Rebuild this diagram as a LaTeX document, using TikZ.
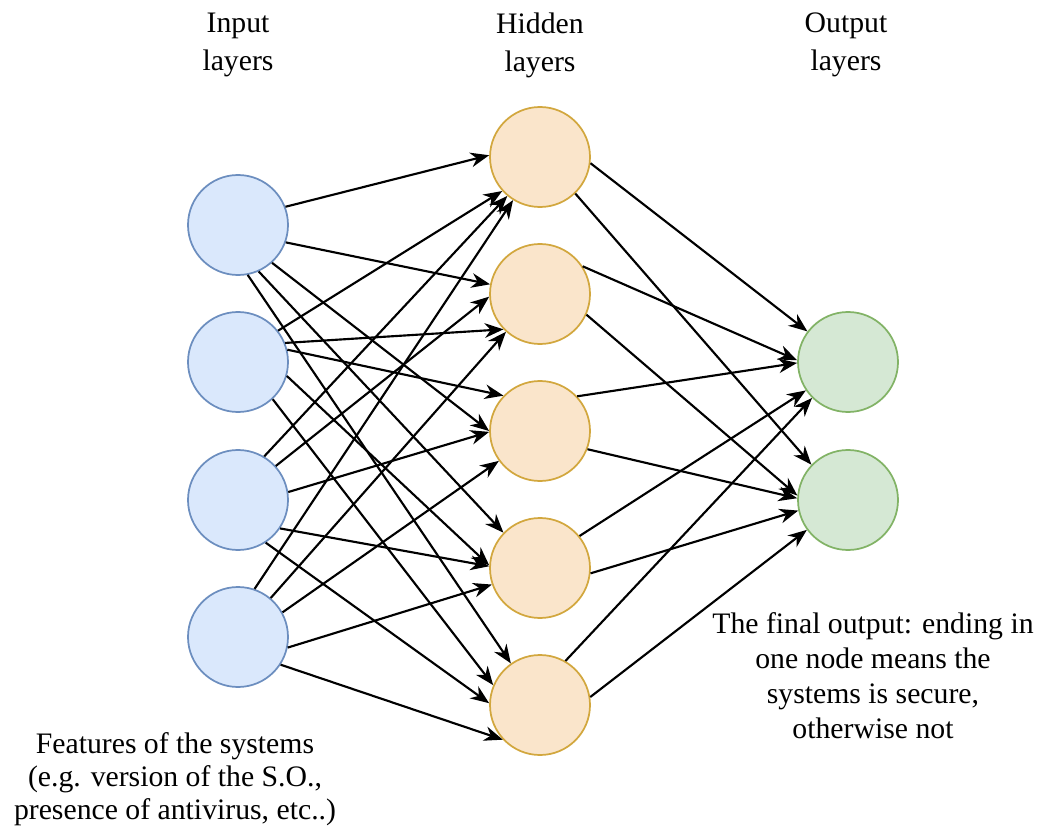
\documentclass[tikz,border=0pt]{standalone}
\usepackage{fontspec}
\setmainfont{Liberation Serif}
\usetikzlibrary{arrows.meta}

\definecolor{inFill}{HTML}{DAE8FC}
\definecolor{inLine}{HTML}{6C8EBF}
\definecolor{hidFill}{HTML}{FAE5CB}
\definecolor{hidLine}{HTML}{D2A73E}
\definecolor{outFill}{HTML}{D5E8D4}
\definecolor{outLine}{HTML}{82B366}

\begin{document}
\begin{tikzpicture}[x=0.75pt,y=-0.75pt,
  neuron/.style={circle,draw,line width=1.3pt,minimum size=75pt,inner sep=0pt},
  inneuron/.style={neuron,fill=inFill,draw=inLine},
  hidneuron/.style={neuron,fill=hidFill,draw=hidLine},
  outneuron/.style={neuron,fill=outFill,draw=outLine},
  link/.style={line width=1.6pt,-{Stealth[length=14pt,width=11pt,inset=4.5pt]}},
  caption/.style={align=center,inner sep=0pt,font=\fontsize{22.3pt}{28.5pt}\selectfont},
  note/.style={align=center,inner sep=0pt}]
\useasboundingbox (0,0) rectangle (1042,831);

% layer titles
\node[caption] (tin)  at (238,45) {Input\\layers};
\node[caption] (thid) at (540,45) {Hidden\\layers};
\node[caption] (tout) at (846,45) {Output\\layers};

% neurons
\node[inneuron] (i1) at (238,225) {};
\node[inneuron] (i2) at (238,362) {};
\node[inneuron] (i3) at (238,500) {};
\node[inneuron] (i4) at (238,637) {};

\node[hidneuron] (h1) at (540,157) {};
\node[hidneuron] (h2) at (540,294) {};
\node[hidneuron] (h3) at (540,431) {};
\node[hidneuron] (h4) at (540,568) {};
\node[hidneuron] (h5) at (540,705) {};

\node[outneuron] (o1) at (848,362) {};
\node[outneuron] (o2) at (848,500) {};

% input -> hidden
\draw[link] (i1.21)  -- (h1.178);
\draw[link] (i1.-20) -- (h2.169);
\draw[link] (i1.-48) -- (h3.180);
\draw[link] (i1.-66) -- (h4.136);
\draw[link] (i1.-79) -- (h5.125);

\draw[link] (i2.38)  -- (h1.222);
\draw[link] (i2.22)  -- (h2.224);
\draw[link] (i2.14)  -- (h3.136);
\draw[link] (i2.-16) -- (h4.177);
\draw[link] (i2.-47) -- (h5.157);

\draw[link] (i3.59)  -- (h1.230);
\draw[link] (i3.42)  -- (h2.183);
\draw[link] (i3.9)   -- (h3.181);
\draw[link] (i3.-34) -- (h4.178);
\draw[link] (i3.-57) -- (h5.178);

\draw[link] (i4.71)  -- (h1.238);
\draw[link] (i4.50)  -- (h2.228);
\draw[link] (i4.29)  -- (h3.216);
\draw[link] (i4.-12) -- (h4.199);
\draw[link] (i4.-33) -- (h5.223);

% hidden -> output
\draw[link] (h1.-7)  -- (o1.143);
\draw[link] (h1.-46) -- (o2.136);
\draw[link] (h2.33)  -- (o1.178);
\draw[link] (h2.-24) -- (o2.175);
\draw[link] (h3.43)  -- (o1.181);
\draw[link] (h3.-21) -- (o2.178);
\draw[link] (h4.39)  -- (o1.214);
\draw[link] (h4.-6)  -- (o2.192);
\draw[link] (h5.60)  -- (o1.225);
\draw[link] (h5.9)   -- (o2.216);

% annotations
\node[note,font=\fontsize{22.3pt}{24.75pt}\selectfont] (feat) at (175,779)
  {Features of the systems\\(e.g. version of the S.O.,\\presence of antivirus, etc..)};
\node[note,font=\fontsize{22.3pt}{26.25pt}\selectfont] (final) at (873,676)
  {The final output: ending in\\one node means the\\systems is secure,\\otherwise not};
\end{tikzpicture}
\end{document}
